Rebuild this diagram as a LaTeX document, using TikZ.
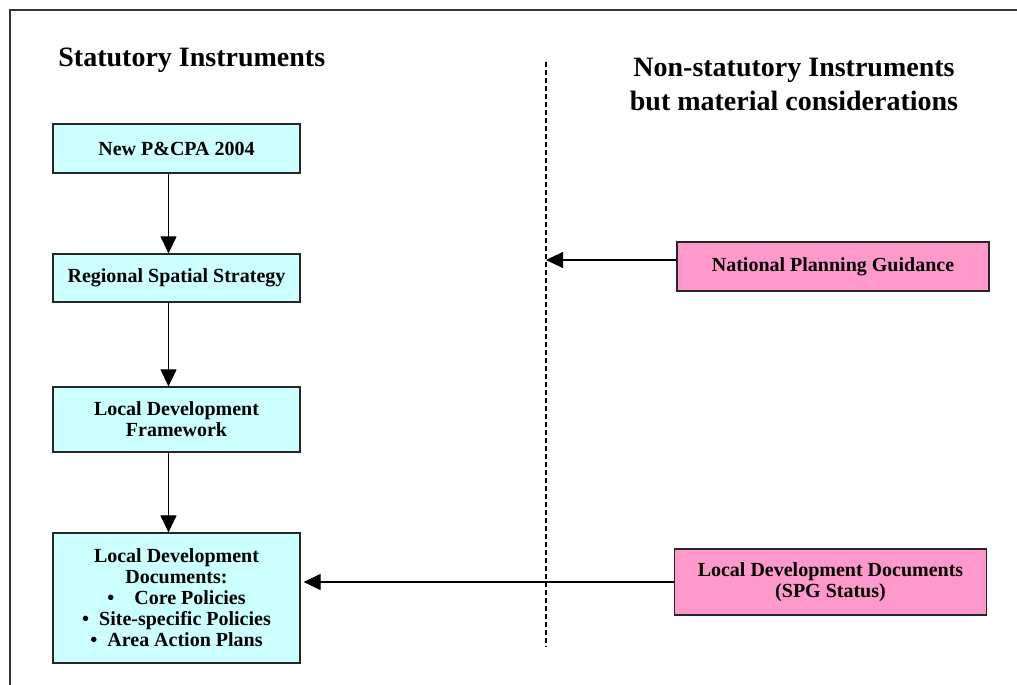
\documentclass[tikz,border=0pt]{standalone}
\usepackage{fontspec}
\setmainfont{Liberation Serif}
\usetikzlibrary{arrows.meta}
\definecolor{statcyan}{HTML}{CCFFFF}
\definecolor{nonpink}{HTML}{FF99CC}
\tikzset{
  sbox/.style={draw=black!85,line width=0.6pt,fill=statcyan,minimum width=123.5pt,
    align=center,inner sep=1pt,font=\fontsize{10}{10.5}\selectfont\bfseries},
  nbox/.style={sbox,fill=nonpink,minimum width=156pt},
  ttl/.style={font=\fontsize{14}{17}\selectfont\bfseries,align=center,inner sep=0pt},
  arr/.style={-{Triangle[length=8.5pt,width=8pt]},line width=0.55pt}
}
\begin{document}
\begin{tikzpicture}[x=0.5pt,y=-0.5pt]
\useasboundingbox (0,0) rectangle (1017,685);
%Khung
\draw[line width=0.6pt,black!80] (10,685) -- (10,10) -- (1017,10);
%Tieu de
\node[ttl,anchor=west] (stat) at (58,60) {Statutory Instruments};
\node[ttl] (nonstat) at (794,85) {Non-statutory Instruments\\but material considerations};
%Duong chia
\coordinate (dtop) at (546,62);
\coordinate (dbot) at (546,647);
\draw[line width=0.75pt,dash pattern=on 2.5pt off 1.5pt] (dtop) -- (dbot);
%Cot trai
\node[sbox,minimum height=24.5pt] (pca) at (176.5,148.5) {New P\&CPA 2004};
\node[sbox,minimum height=24pt] (rss) at (176.5,278) {Regional Spatial Strategy};
\node[sbox,minimum height=32.5pt] (ldf) at (176.5,419.5) {Local Development\\Framework};
\node[sbox,minimum height=65pt] (ldd) at (176.5,598) {Local Development\\Documents:\\
  •\quad Core Policies\\ •\ \ Site-specific Policies\\ •\ \ Area Action Plans};
%Mui ten doc
\draw[arr] ([xshift=-4pt]pca.south) -- ([xshift=-4pt]rss.north);
\draw[arr] ([xshift=-4pt]rss.south) -- ([xshift=-4pt]ldf.north);
\draw[arr] ([xshift=-4pt]ldf.south) -- ([xshift=-4pt]ldd.north);
%Cot phai
\node[nbox,minimum height=24.5pt] (npg) at (833,266.5) {National Planning Guidance};
\node[nbox,minimum height=33pt] (spg) at (830.5,582) {Local Development Documents\\(SPG Status)};
%Mui ten ngang
\draw[arr] ([yshift=3.25pt]npg.west) -- ([yshift=3.25pt]npg.west -| dtop);
\draw[arr] (spg.west) -- ([xshift=1.5pt]spg.west -| ldd.east);
\end{tikzpicture}
\end{document}
